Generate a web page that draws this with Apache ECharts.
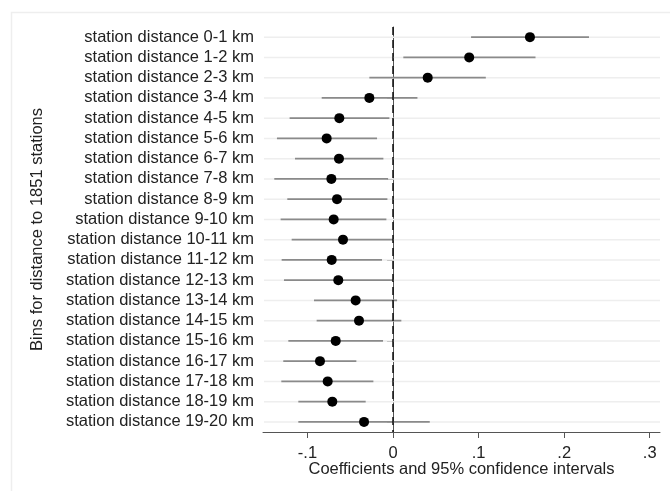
<!DOCTYPE html>
<html>
<head>
<meta charset="utf-8">
<script src="https://cdn.jsdelivr.net/npm/echarts@6/dist/echarts.min.js"></script>
<style>html,body{margin:0;padding:0;background:#fff}#c{width:670px;height:491px}</style>
</head>
<body>
<div id="c"></div>
<script>
const categories = [
  "station distance 0-1 km","station distance 1-2 km","station distance 2-3 km","station distance 3-4 km",
  "station distance 4-5 km","station distance 5-6 km","station distance 6-7 km","station distance 7-8 km",
  "station distance 8-9 km","station distance 9-10 km","station distance 10-11 km","station distance 11-12 km",
  "station distance 12-13 km","station distance 13-14 km","station distance 14-15 km","station distance 15-16 km",
  "station distance 16-17 km","station distance 17-18 km","station distance 18-19 km","station distance 19-20 km"
];
const coefficients = [0.160, 0.089, 0.0405, -0.0277, -0.0628, -0.0776, -0.0632, -0.0721, -0.0655, -0.0694,
  -0.0585, -0.0717, -0.064, -0.0437, -0.0398, -0.067, -0.0854, -0.0764, -0.071, -0.0339];
const ciLower = [0.0912, 0.012, -0.0277, -0.0834, -0.1209, -0.1357, -0.1146, -0.1388, -0.1236, -0.1314,
  -0.1185, -0.1302, -0.1275, -0.0924, -0.0893, -0.1224, -0.1283, -0.1306, -0.1107, -0.1107];
const ciUpper = [0.229, 0.1665, 0.1084, 0.0285, -0.0043, -0.0187, -0.0113, -0.0058, -0.0066, -0.0078,
  0.0, -0.0129, 0.0, 0.0047, 0.0097, -0.0117, -0.0429, -0.023, -0.032, 0.0429];
const xTicks = [-0.1, 0, 0.1, 0.2, 0.3];

const FONT = "'Liberation Sans', Arial, sans-serif";
const FS = 16.5;
const chart = echarts.init(document.getElementById('c'));
const xMin = -0.152, xMax = 0.312;

chart.setOption({
  animation: false,
  backgroundColor: '#fff',
  graphic: [{
    type: 'rect', left: 9, top: 10, silent: true, z: -10,
    shape: { width: 700, height: 520 },
    style: { fill: 'none', stroke: '#eeeeee', lineWidth: 1.5 }
  }],
  grid: { left: 263, right: 10, top: 27, bottom: 59 },
  xAxis: {
    type: 'value', min: xMin, max: xMax,
    name: 'Coefficients and 95% confidence intervals',
    nameLocation: 'middle', nameGap: 29, nameMoveOverlap: false,
    nameTextStyle: { fontFamily: FONT, fontSize: FS, color: '#222' },
    axisLine: { show: true, lineStyle: { color: '#555', width: 1 } },
    axisTick: { show: true, length: 6, lineStyle: { color: '#555' }, customValues: xTicks },
    axisLabel: {
      fontFamily: FONT, fontSize: FS, color: '#222', margin: 13,
      customValues: xTicks,
      formatter: v => {
        const r = Math.round(v * 10) / 10;
        if (r === 0) return '0';
        return (r < 0 ? '-' : '') + String(Math.abs(r)).replace(/^0/, '');
      }
    },
    splitLine: { show: false }
  },
  yAxis: {
    type: 'category', data: categories, inverse: true,
    name: 'Bins for distance to 1851 stations',
    nameLocation: 'middle', nameGap: 217, nameMoveOverlap: false,
    nameTextStyle: { fontFamily: FONT, fontSize: FS, color: '#222' },
    axisLine: { show: true, lineStyle: { color: '#555', width: 1 } },
    axisTick: { show: true, alignWithLabel: true, interval: 0, length: 6, lineStyle: { color: '#555' } },
    axisLabel: { fontFamily: FONT, fontSize: FS, color: '#222', margin: 9, interval: 0 },
    splitLine: { show: false }
  },
  series: [
    {
      type: 'custom',
      data: categories.map((c, i) => [i, ciLower[i], ciUpper[i]]),
      encode: { y: 0, x: [1, 2] },
      z: 1,
      renderItem: (params, api) => {
        const i = api.value(0);
        const a = api.coord([api.value(1), i]);
        const b = api.coord([api.value(2), i]);
        const g0 = api.coord([xMin, i]);
        const g1 = api.coord([xMax, i]);
        return {
          type: 'group',
          children: [
            { type: 'line', shape: { x1: g0[0] + 1, y1: g0[1], x2: g1[0], y2: g1[1] },
              style: { stroke: '#eeeeee', lineWidth: 1.5 }, z2: 0 },
            { type: 'line', shape: { x1: a[0], y1: a[1], x2: b[0], y2: b[1] },
              style: { stroke: '#8a8a8a', lineWidth: 1.6 }, z2: 5 }
          ]
        };
      }
    },
    {
      type: 'scatter',
      data: coefficients.map((v, i) => [v, i]),
      symbol: 'circle', symbolSize: 10,
      itemStyle: { color: '#000', opacity: 1 },
      z: 3,
      markLine: {
        silent: true, symbol: ['none', 'none'], label: { show: false },
        lineStyle: { color: '#111', type: [8, 5], width: 1.5 },
        data: [{ xAxis: 0 }]
      }
    }
  ]
});
</script>
</body>
</html>
